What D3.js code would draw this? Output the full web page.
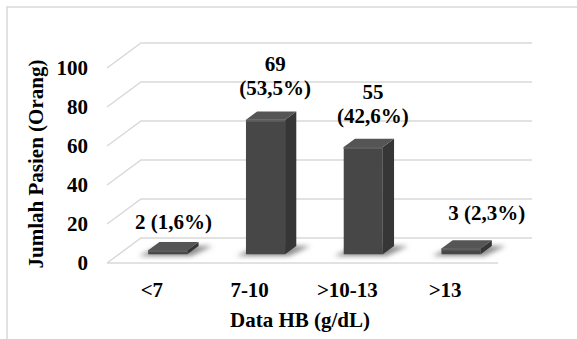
<!DOCTYPE html>
<html lang="en">
<head>
  <meta charset="UTF-8">
  <title>Data HB</title>
  <script src="https://d3js.org/d3.v7.min.js"></script>
  <style>
    body { margin: 0; background: #fff; }
    text {
      font-family: "Times New Roman", "Liberation Serif", serif;
      font-weight: bold;
      font-size: 21px;
      fill: #000;
    }
    .grid { stroke: #d9d9d9; stroke-width: 1.5px; fill: none; }
  </style>
</head>
<body>
  <div id="chart"></div>
  <script>
    // data
    const categories = ["<7", "7-10", ">10-13", ">13"];
    const counts = [2, 69, 55, 3];
    const percents = ["1,6%", "53,5%", "42,6%", "2,3%"];
    const yTicks = [0, 20, 40, 60, 80, 100];

    const W = 577, H = 339;
    // depth of the 3d box (front floor edge -> back wall)
    const DX = 34, DY = 25;
    const zFront = 0.35, zBack = 0.68;

    const svg = d3.select("#chart")
                  .append("svg")
                  .attr("width", W)
                  .attr("height", H);

    const defs = svg.append("defs");
    defs.append("filter").attr("id", "blur")
        .attr("x", "-50%").attr("y", "-50%").attr("width", "200%").attr("height", "200%")
        .append("feGaussianBlur").attr("stdDeviation", 2.5);

    // outer frame
    svg.append("rect")
       .attr("x", 7).attr("y", 7)
       .attr("width", W + 10).attr("height", H + 10)
       .attr("fill", "none")
       .attr("stroke", "#d9d9d9")
       .attr("stroke-width", 1.5);

    const x = d3.scaleBand()
                .domain(categories)
                .range([107, 498]);

    const y = d3.scaleLinear()
                .domain([0, 100])
                .range([263, 68]);

    // project a point of the front plane back into depth z (0..1)
    const P = (px, v, z) => [px + z * DX, y(v) - z * DY];
    const poly = pts => pts.map(p => p.join(",")).join(" ");

    // back wall + left wall gridlines
    const grid = svg.append("g");
    yTicks.forEach(t => {
      const a = P(x.range()[0], t, 0), b = P(x.range()[0], t, 1), c = P(x.range()[1], t, 1);
      grid.append("polyline")
          .attr("class", "grid")
          .attr("points", poly([a, b, c]));
    });
    // floor front edge
    grid.append("line")
        .attr("class", "grid")
        .attr("x1", x.range()[0]).attr("x2", x.range()[1])
        .attr("y1", y(0)).attr("y2", y(0));

    // y tick labels
    svg.append("g")
       .selectAll("text")
       .data(yTicks)
       .join("text")
       .attr("x", 88)
       .attr("y", d => y(d) + 7)
       .attr("text-anchor", "end")
       .text(d => d);

    const bw = x.bandwidth() * 0.4;
    const bx = c => x(c) + x.bandwidth() * 0.3;

    // shadows on the floor
    svg.append("g")
       .attr("filter", "url(#blur)")
       .selectAll("polygon")
       .data(categories)
       .join("polygon")
       .attr("fill", "#6e6e6e")
       .attr("opacity", 0.8)
       .attr("points", c => {
         const x0 = bx(c) - 7, x1 = bx(c) + bw + 6;
         return poly([P(x0, 0, zFront - 0.07), P(x1, 0, zFront - 0.07),
                      P(x1 + 8, 0, zBack), P(x0 + 8, 0, zBack)]);
       });

    // 3d bars
    const bars = svg.append("g")
                    .selectAll("g")
                    .data(categories.map((c, i) => ({ c, v: counts[i] })))
                    .join("g");

    bars.append("polygon")
        .attr("fill", "#363636")
        .attr("points", d => {
          const x1 = bx(d.c) + bw;
          return poly([P(x1, 0, zFront), P(x1, 0, zBack), P(x1, d.v, zBack), P(x1, d.v, zFront)]);
        });
    bars.append("polygon")
        .attr("fill", "#555")
        .attr("points", d => {
          const x0 = bx(d.c), x1 = x0 + bw;
          return poly([P(x0, d.v, zFront), P(x1, d.v, zFront), P(x1, d.v, zBack), P(x0, d.v, zBack)]);
        });
    bars.append("polygon")
        .attr("fill", "#474747")
        .attr("points", d => {
          const x0 = bx(d.c), x1 = x0 + bw;
          return poly([P(x0, 0, zFront), P(x1, 0, zFront), P(x1, d.v, zFront), P(x0, d.v, zFront)]);
        });
    // soft bevel highlight along the front top edge
    bars.append("line")
        .attr("stroke", "#5e5e5e")
        .attr("stroke-width", 2)
        .attr("x1", d => P(bx(d.c), d.v, zFront)[0])
        .attr("x2", d => P(bx(d.c) + bw, d.v, zFront)[0])
        .attr("y1", d => P(0, d.v, zFront)[1] + 1)
        .attr("y2", d => P(0, d.v, zFront)[1] + 1);

    // data labels (manual nudges as placed in the original)
    const twoLine = [false, true, true, false];
    const nudge = [[0, 3], [4, 0], [4, 0], [20, -4]];
    const labels = svg.append("g")
                      .selectAll("text")
                      .data(categories.map((c, i) => ({ c, i, v: counts[i], p: percents[i] })))
                      .join("text")
                      .attr("text-anchor", "middle")
                      .attr("transform", d => {
                        const cx = bx(d.c) + bw / 2 + (zFront + zBack) / 2 * DX;
                        const top = P(0, d.v, zBack)[1];
                        return `translate(${cx + nudge[d.i][0]},${top - 16 + nudge[d.i][1]})`;
                      });
    labels.each(function(d) {
      const t = d3.select(this);
      if (twoLine[d.i]) {
        t.append("tspan").attr("x", 0).attr("y", -24).text(d.v);
        t.append("tspan").attr("x", 0).attr("y", 0).text(`(${d.p})`);
      } else {
        t.append("tspan").attr("x", 0).attr("y", 0).text(`${d.v} (${d.p})`);
      }
    });

    // x category labels
    svg.append("g")
       .selectAll("text")
       .data(categories)
       .join("text")
       .attr("x", d => x(d) + x.bandwidth() / 2 - 4)
       .attr("y", 297)
       .attr("text-anchor", "middle")
       .text(d => d);

    // axis titles
    svg.append("text")
       .attr("x", 300)
       .attr("y", 327)
       .attr("text-anchor", "middle")
       .text("Data HB (g/dL)");

    svg.append("text")
       .attr("transform", "translate(43,164) rotate(-90)")
       .attr("text-anchor", "middle")
       .text("Jumlah Pasien (Orang)");
  </script>
</body>
</html>
